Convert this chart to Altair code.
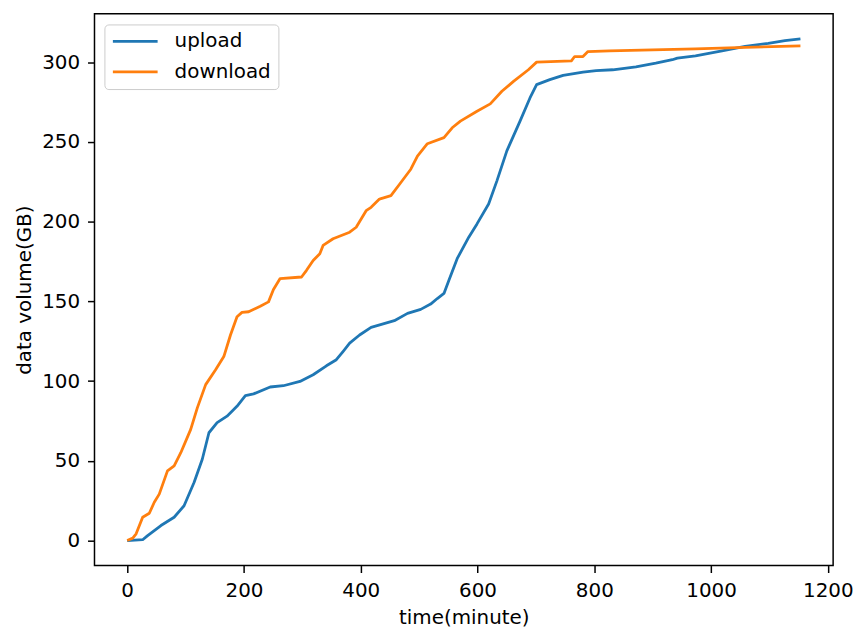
import altair as alt
import pandas as pd

upload_time = [0, 26.5, 35.0, 57.8, 80.4, 97.4, 114.5, 128.6, 140.0, 154.0, 171.0, 188.0,
               202.4, 216.5, 244.9, 267.5, 295.9, 318.5, 341.2, 358.2, 369.6, 381.0, 398.0,
               417.7, 457.5, 480.1, 502.7, 519.7, 531.1, 542.5, 551.0, 565.1, 585.0, 599.1,
               619.0, 633.2, 650.2, 672.8, 689.8, 701.2, 723.8, 746.6, 780.6, 803.2, 831.6,
               871.3, 905.3, 933.7, 942.2, 973.3, 1018.7, 1058.3, 1098.0, 1126.4, 1153.0]
upload_gb = [0, 0.5, 3.1, 9.4, 14.6, 21.8, 36.4, 51.0, 67.6, 73.9, 78.0, 84.2,
             90.9, 92.0, 96.3, 97.1, 99.8, 104.0, 109.6, 113.4, 118.5, 123.8, 128.9,
             133.7, 137.9, 142.5, 145.0, 148.3, 151.8, 155.0, 163.3, 176.8, 190.3, 198.6,
             211.1, 225.6, 244.4, 263.1, 277.6, 286.0, 289.1, 291.8, 293.8, 294.7, 295.3,
             297.1, 299.4, 301.6, 302.6, 304.0, 307.2, 309.9, 311.9, 313.6, 314.7]

download_time = [0, 9.5, 15.3, 26.5, 37.9, 46.4, 54.9, 69.0, 80.4, 91.8, 108.8, 120.1,
                 134.4, 151.4, 165.5, 176.9, 188.1, 196.6, 208.0, 227.9, 242.0, 250.5,
                 261.9, 298.6, 307.1, 318.5, 329.9, 335.5, 352.6, 381.0, 392.2, 409.2,
                 417.7, 432.0, 451.7, 468.7, 485.7, 497.1, 514.1, 542.5, 556.6, 570.7,
                 599.1, 621.8, 641.7, 661.6, 687.1, 701.2, 760.7, 766.3, 780.6, 789.1,
                 825.8, 973.3, 1058.3, 1153.0]
download_gb = [0, 1.5, 4.2, 14.6, 17.1, 24.0, 29.1, 43.7, 46.8, 55.1, 69.7, 83.2,
               97.8, 107.1, 115.4, 128.9, 140.4, 143.1, 143.5, 147.0, 149.7, 157.5,
               164.3, 165.3, 169.5, 175.7, 179.9, 185.1, 189.3, 193.4, 196.5, 206.9,
               209.0, 214.2, 216.3, 224.6, 232.9, 241.2, 248.9, 252.7, 258.9, 263.1,
               269.3, 273.9, 281.8, 288.0, 295.3, 300.1, 300.9, 303.6, 303.6, 306.7,
               307.2, 308.4, 309.4, 310.3]

series_names = ["upload", "download"]
series_colors = ["#1f77b4", "#ff7f0e"]

df = pd.concat([
    pd.DataFrame({"time": upload_time, "gb": upload_gb, "series": "upload"}),
    pd.DataFrame({"time": download_time, "gb": download_gb, "series": "download"}),
], ignore_index=True)

FONT = "DejaVu Sans"

chart = alt.Chart(df).mark_line(strokeWidth=2.8, strokeJoin="round").encode(
    x=alt.X("time:Q",
            scale=alt.Scale(domain=[-56, 1209], nice=False, zero=False),
            axis=alt.Axis(values=[0, 200, 400, 600, 800, 1000, 1200], format="d",
                          title="time(minute)",
                          grid=False, domain=False, tickColor="black", tickWidth=1.5,
                          tickSize=7, labelPadding=8, labelFontSize=20, labelFont=FONT,
                          labelColor="black", titleFont=FONT, titleFontSize=20,
                          titleFontWeight="normal", titleColor="black",
                          titleBaseline="alphabetic", titleY=58.3, titleX=371.5,
                          titleAlign="center", labelFlush=False)),
    y=alt.Y("gb:Q",
            scale=alt.Scale(domain=[-15.7, 330.4], nice=False, zero=False),
            axis=alt.Axis(values=[0, 50, 100, 150, 200, 250, 300], format="d",
                          title="data volume(GB)",
                          grid=False, domain=False, tickColor="black", tickWidth=1.5,
                          tickSize=7, labelPadding=8, labelFontSize=20, labelFont=FONT,
                          labelColor="black", titleFont=FONT, titleFontSize=20,
                          titleFontWeight="normal", titleColor="black",
                          titleAngle=-90, titleBaseline="alphabetic", titleX=-64,
                          titleY=277.5, titleAlign="center", labelFlush=False)),
    color=alt.Color("series:N",
                    scale=alt.Scale(domain=series_names, range=series_colors),
                    sort=series_names,
                    legend=alt.Legend(title=None, orient="none", legendX=10, legendY=10.7,
                                      symbolType="stroke", symbolSize=2025,
                                      symbolStrokeWidth=2.8, clipHeight=20,
                                      rowPadding=10.7, labelFontSize=20, labelFont=FONT,
                                      labelColor="black", labelOffset=15.6, padding=7,
                                      strokeColor="#cccccc", cornerRadius=4,
                                      fillColor="white")),
).properties(
    width=743,
    height=555,
    padding={"left": 87, "top": 4, "right": 22, "bottom": 64},
    autosize=alt.AutoSizeParams(type="none"),
).configure_view(stroke="black", strokeWidth=1.5)

chart.save("out.html", embed_options={"renderer": "svg", "actions": False})
